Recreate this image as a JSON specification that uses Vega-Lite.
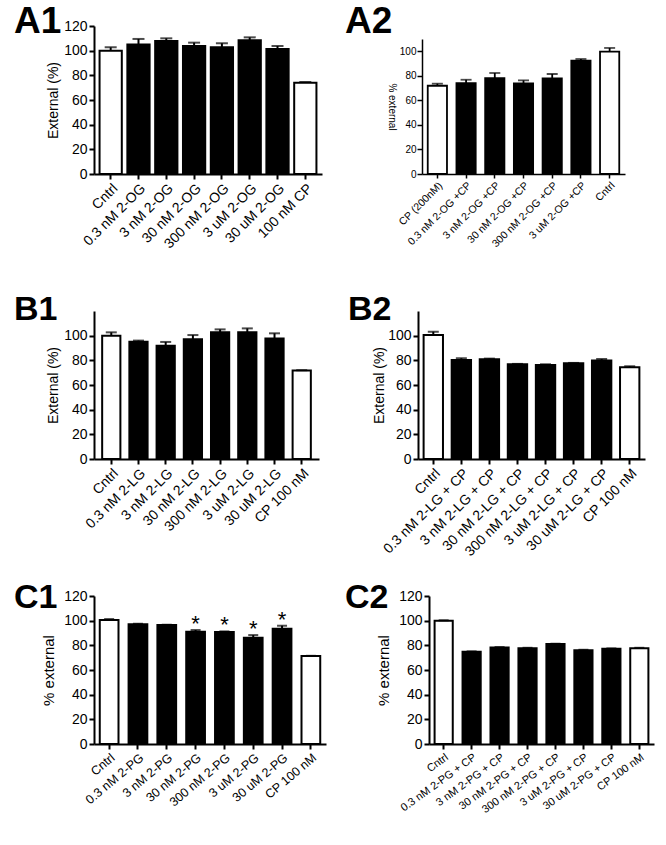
{
  "$schema": "https://vega.github.io/schema/vega-lite/v6.json",
  "background": "white",
  "padding": {"left": 14, "top": 3, "right": 5, "bottom": 5},
  "config": {
    "font": "Liberation Sans",
    "view": {"stroke": null},
    "axis": {"domainColor": "black", "domainWidth": 2, "tickColor": "black", "tickWidth": 2, "tickSize": 5, "labelColor": "black", "titleColor": "black", "grid": false, "labelFont": "Liberation Sans", "titleFont": "Liberation Sans", "titleFontWeight": "normal", "labelFontSize": 14, "titleFontSize": 14, "labelOverlap": false},
    "axisX": {"labelAngle": -45, "labelPadding": 2},
    "axisY": {"titlePadding": 3, "labelPadding": 2, "labelOverlap": false, "tickCount": 12},
    "title": {"font": "Liberation Sans", "color": "black"}
  },
  "datasets": {
    "A1": [
      {"cond": "Cntrl", "mean": 100, "hi": 102.7, "kind": "open"},
      {"cond": "0.3 nM 2-OG", "mean": 105, "hi": 109.5, "kind": "filled"},
      {"cond": "3 nM 2-OG", "mean": 107.8, "hi": 110, "kind": "filled"},
      {"cond": "30 nM 2-OG", "mean": 103.8, "hi": 106.5, "kind": "filled"},
      {"cond": "300 nM 2-OG", "mean": 102.7, "hi": 106, "kind": "filled"},
      {"cond": "3 uM 2-OG", "mean": 108.4, "hi": 110.8, "kind": "filled"},
      {"cond": "30 uM 2-OG", "mean": 101.4, "hi": 103.8, "kind": "filled"},
      {"cond": "100 nM CP", "mean": 74, "hi": 74.6, "kind": "open"}
    ],
    "A2": [
      {"cond": "CP (200nM)", "mean": 71.9, "hi": 73.6, "kind": "open"},
      {"cond": "0.3 nM 2-OG +CP", "mean": 74.1, "hi": 76.8, "kind": "filled"},
      {"cond": "3 nM 2-OG +CP", "mean": 78.2, "hi": 82.3, "kind": "filled"},
      {"cond": "30 nM 2-OG +CP", "mean": 73.8, "hi": 76.3, "kind": "filled"},
      {"cond": "300 nM 2-OG +CP", "mean": 77.9, "hi": 81.5, "kind": "filled"},
      {"cond": "3 uM 2-OG +CP", "mean": 92.4, "hi": 93.7, "kind": "filled"},
      {"cond": "Cntrl", "mean": 99.7, "hi": 102.7, "kind": "open"}
    ],
    "B1": [
      {"cond": "Cntrl", "mean": 100, "hi": 102.7, "kind": "open"},
      {"cond": "0.3 nM 2-LG", "mean": 95.1, "hi": 96, "kind": "filled"},
      {"cond": "3 nM 2-LG", "mean": 91.9, "hi": 94.9, "kind": "filled"},
      {"cond": "30 nM 2-LG", "mean": 97, "hi": 100.5, "kind": "filled"},
      {"cond": "300 nM 2-LG", "mean": 102.7, "hi": 105.1, "kind": "filled"},
      {"cond": "3 uM 2-LG", "mean": 102.7, "hi": 105.9, "kind": "filled"},
      {"cond": "30 uM 2-LG", "mean": 97.8, "hi": 101.9, "kind": "filled"},
      {"cond": "CP 100 nM", "mean": 71.7, "hi": 72, "kind": "open"}
    ],
    "B2": [
      {"cond": "Cntrl", "mean": 100.5, "hi": 103.2, "kind": "open"},
      {"cond": "0.3 nM 2-LG + CP", "mean": 80.3, "hi": 81.7, "kind": "filled"},
      {"cond": "3 nM 2-LG + CP", "mean": 80.9, "hi": 81.4, "kind": "filled"},
      {"cond": "30 nM 2-LG + CP", "mean": 76.8, "hi": 77.1, "kind": "filled"},
      {"cond": "300 nM 2-LG + CP", "mean": 76.3, "hi": 76.8, "kind": "filled"},
      {"cond": "3 uM 2-LG + CP", "mean": 77.6, "hi": 77.9, "kind": "filled"},
      {"cond": "30 uM 2-LG + CP", "mean": 79.8, "hi": 81.1, "kind": "filled"},
      {"cond": "CP 100 nM", "mean": 74.4, "hi": 75.2, "kind": "open"}
    ],
    "C1": [
      {"cond": "Cntrl", "mean": 100.5, "hi": 101.3, "kind": "open", "sig": ""},
      {"cond": "0.3 nM 2-PG", "mean": 97, "hi": 97.5, "kind": "filled", "sig": ""},
      {"cond": "3 nM 2-PG", "mean": 96.5, "hi": 96.7, "kind": "filled", "sig": ""},
      {"cond": "30 nM 2-PG", "mean": 91, "hi": 92.4, "kind": "filled", "sig": "*"},
      {"cond": "300 nM 2-PG", "mean": 90.8, "hi": 91.3, "kind": "filled", "sig": "*"},
      {"cond": "3 uM 2-PG", "mean": 86.2, "hi": 88.3, "kind": "filled", "sig": "*"},
      {"cond": "30 uM 2-PG", "mean": 93.5, "hi": 95.9, "kind": "filled", "sig": "*"},
      {"cond": "CP 100 nM", "mean": 71.3, "hi": 71.5, "kind": "open", "sig": ""}
    ],
    "C2": [
      {"cond": "Cntrl", "mean": 100, "hi": 100.3, "kind": "open"},
      {"cond": "0.3 nM 2-PG + CP", "mean": 74.8, "hi": 75.1, "kind": "filled"},
      {"cond": "3 nM 2-PG + CP", "mean": 78.3, "hi": 78.6, "kind": "filled"},
      {"cond": "30 nM 2-PG + CP", "mean": 77.7, "hi": 78, "kind": "filled"},
      {"cond": "300 nM 2-PG + CP", "mean": 81, "hi": 81.3, "kind": "filled"},
      {"cond": "3 uM 2-PG + CP", "mean": 76.1, "hi": 76.4, "kind": "filled"},
      {"cond": "30 uM 2-PG + CP", "mean": 77.2, "hi": 77.5, "kind": "filled"},
      {"cond": "CP 100 nM", "mean": 77.7, "hi": 78, "kind": "open"}
    ]
  },
  "spacing": 285,
  "bounds": "flush",
  "vconcat": [
    {
      "spacing": 100,
      "bounds": "flush",
      "hconcat": [
        {
          "title": {"text": "A1", "anchor": "start", "frame": "group", "fontSize": 37, "fontWeight": "bold", "baseline": "alphabetic", "offset": -51, "dx": -80},
          "width": 228, "height": 148,
          "data": {"name": "A1"},
          "encoding": {
            "x": {"field": "cond", "type": "nominal", "sort": null, "title": null, "scale": {"paddingInner": 0.2, "paddingOuter": 0.2}, "axis": {"labelFontSize": 14, "labelAngle": -45}}
          },
          "layer": [
            {"mark": {"type": "bar", "stroke": "black", "strokeWidth": 2},
             "encoding": {
               "y": {"field": "mean", "type": "quantitative", "title": "External (%)", "scale": {"domain": [0, 120], "nice": false}, "axis": {"values": [0, 20, 40, 60, 80, 100, 120], "tickCount": 12, "labelOverlap": false}},
               "fill": {"field": "kind", "type": "nominal", "scale": {"domain": ["open", "filled"], "range": ["white", "black"]}, "legend": null}}},
            {"mark": {"type": "rule", "stroke": "black", "strokeWidth": 2},
             "encoding": {"y": {"field": "mean", "type": "quantitative", "title": "External (%)"}, "y2": {"field": "hi"}}},
            {"mark": {"type": "tick", "color": "black", "thickness": 2, "size": 12},
             "encoding": {"y": {"field": "hi", "type": "quantitative", "title": "External (%)"}}}
          ]
        },
        {
          "title": {"text": "A2", "anchor": "start", "frame": "group", "fontSize": 37, "fontWeight": "bold", "baseline": "alphabetic", "offset": -44, "dx": -77},
          "width": 203, "height": 148,
          "data": {"name": "A2"},
          "encoding": {
            "x": {"field": "cond", "type": "nominal", "sort": null, "title": null, "scale": {"paddingInner": 0.33, "paddingOuter": 0.2}, "axis": {"labelFontSize": 10.5, "labelAngle": -45, "domainWidth": 1.5, "tickWidth": 1.5, "tickSize": 4}}
          },
          "layer": [
            {"mark": {"type": "bar", "stroke": "black", "strokeWidth": 1.8},
             "encoding": {
               "y": {"field": "mean", "type": "quantitative", "title": "% external", "scale": {"domain": [0, 110], "nice": false, "range": [148, 13]}, "axis": {"values": [0, 20, 40, 60, 80, 100], "tickCount": 12, "labelOverlap": false, "labelFontSize": 10, "titleFontSize": 10, "titleAngle": 90, "titleBaseline": "top", "titlePadding": 3, "domainWidth": 1.5, "tickWidth": 1.5, "tickSize": 5, "labelPadding": 1}},
               "fill": {"field": "kind", "type": "nominal", "scale": {"domain": ["open", "filled"], "range": ["white", "black"]}, "legend": null}}},
            {"mark": {"type": "rule", "stroke": "black", "strokeWidth": 1.8},
             "encoding": {"y": {"field": "mean", "type": "quantitative", "title": "% external"}, "y2": {"field": "hi"}}},
            {"mark": {"type": "tick", "color": "black", "thickness": 1.8, "size": 11},
             "encoding": {"y": {"field": "hi", "type": "quantitative", "title": "% external"}}}
          ]
        }
      ]
    },
    {
      "spacing": 99,
      "bounds": "flush",
      "hconcat": [
        {
          "title": {"text": "B1", "anchor": "start", "frame": "group", "fontSize": 34, "fontWeight": "bold", "baseline": "alphabetic", "offset": -43, "dx": -80},
          "width": 225, "height": 148,
          "data": {"name": "B1"},
          "encoding": {
            "x": {"field": "cond", "type": "nominal", "sort": null, "title": null, "scale": {"paddingInner": 0.33, "paddingOuter": 0.3}, "axis": {"labelFontSize": 14, "labelAngle": -45}}
          },
          "layer": [
            {"mark": {"type": "bar", "stroke": "black", "strokeWidth": 2},
             "encoding": {
               "y": {"field": "mean", "type": "quantitative", "title": "External (%)", "scale": {"domain": [0, 120], "nice": false}, "axis": {"values": [0, 20, 40, 60, 80, 100], "tickCount": 12, "labelOverlap": false}},
               "fill": {"field": "kind", "type": "nominal", "scale": {"domain": ["open", "filled"], "range": ["white", "black"]}, "legend": null}}},
            {"mark": {"type": "rule", "stroke": "black", "strokeWidth": 2},
             "encoding": {"y": {"field": "mean", "type": "quantitative", "title": "External (%)"}, "y2": {"field": "hi"}}},
            {"mark": {"type": "tick", "color": "black", "thickness": 2, "size": 11},
             "encoding": {"y": {"field": "hi", "type": "quantitative", "title": "External (%)"}}}
          ]
        },
        {
          "title": {"text": "B2", "anchor": "start", "frame": "group", "fontSize": 34, "fontWeight": "bold", "baseline": "alphabetic", "offset": -43, "dx": -70},
          "width": 227, "height": 148,
          "data": {"name": "B2"},
          "encoding": {
            "x": {"field": "cond", "type": "nominal", "sort": null, "title": null, "scale": {"paddingInner": 0.31, "paddingOuter": 0.2}, "axis": {"labelFontSize": 14, "labelAngle": -45}}
          },
          "layer": [
            {"mark": {"type": "bar", "stroke": "black", "strokeWidth": 2},
             "encoding": {
               "y": {"field": "mean", "type": "quantitative", "title": "External (%)", "scale": {"domain": [0, 120], "nice": false}, "axis": {"values": [0, 20, 40, 60, 80, 100], "tickCount": 12, "labelOverlap": false, "titlePadding": 1}},
               "fill": {"field": "kind", "type": "nominal", "scale": {"domain": ["open", "filled"], "range": ["white", "black"]}, "legend": null}}},
            {"mark": {"type": "rule", "stroke": "black", "strokeWidth": 2},
             "encoding": {"y": {"field": "mean", "type": "quantitative", "title": "External (%)"}, "y2": {"field": "hi"}}},
            {"mark": {"type": "tick", "color": "black", "thickness": 2, "size": 11},
             "encoding": {"y": {"field": "hi", "type": "quantitative", "title": "External (%)"}}}
          ]
        }
      ]
    },
    {
      "spacing": 103,
      "bounds": "flush",
      "hconcat": [
        {
          "title": {"text": "C1", "anchor": "start", "frame": "group", "fontSize": 34, "fontWeight": "bold", "baseline": "alphabetic", "offset": -53, "dx": -80},
          "width": 232, "height": 148,
          "data": {"name": "C1"},
          "encoding": {
            "x": {"field": "cond", "type": "nominal", "sort": null, "title": null, "scale": {"paddingInner": 0.35, "paddingOuter": 0.2}, "axis": {"labelFontSize": 12.5, "labelAngle": -40}}
          },
          "layer": [
            {"mark": {"type": "bar", "stroke": "black", "strokeWidth": 2},
             "encoding": {
               "y": {"field": "mean", "type": "quantitative", "title": "% external", "scale": {"domain": [0, 120], "nice": false}, "axis": {"values": [0, 20, 40, 60, 80, 100, 120], "tickCount": 12, "labelOverlap": false, "titleFontSize": 15, "titlePadding": 7}},
               "fill": {"field": "kind", "type": "nominal", "scale": {"domain": ["open", "filled"], "range": ["white", "black"]}, "legend": null}}},
            {"mark": {"type": "rule", "stroke": "black", "strokeWidth": 2},
             "encoding": {"y": {"field": "mean", "type": "quantitative", "title": "% external"}, "y2": {"field": "hi"}}},
            {"mark": {"type": "tick", "color": "black", "thickness": 2, "size": 10},
             "encoding": {"y": {"field": "hi", "type": "quantitative", "title": "% external"}}},
            {"transform": [{"filter": "datum.sig != ''"}],
             "mark": {"type": "text", "fontSize": 22, "baseline": "bottom", "dy": 6, "color": "black"},
             "encoding": {"y": {"field": "hi", "type": "quantitative", "title": "% external"}, "text": {"field": "sig"}}}
          ]
        },
        {
          "title": {"text": "C2", "anchor": "start", "frame": "group", "fontSize": 34, "fontWeight": "bold", "baseline": "alphabetic", "offset": -53, "dx": -84},
          "width": 225, "height": 148,
          "data": {"name": "C2"},
          "encoding": {
            "x": {"field": "cond", "type": "nominal", "sort": null, "title": null, "scale": {"paddingInner": 0.35, "paddingOuter": 0.2}, "axis": {"labelFontSize": 11, "labelAngle": -36}}
          },
          "layer": [
            {"mark": {"type": "bar", "stroke": "black", "strokeWidth": 2},
             "encoding": {
               "y": {"field": "mean", "type": "quantitative", "title": "% external", "scale": {"domain": [0, 120], "nice": false}, "axis": {"values": [0, 20, 40, 60, 80, 100, 120], "tickCount": 12, "labelOverlap": false, "titleFontSize": 15, "titlePadding": 7}},
               "fill": {"field": "kind", "type": "nominal", "scale": {"domain": ["open", "filled"], "range": ["white", "black"]}, "legend": null}}},
            {"mark": {"type": "rule", "stroke": "black", "strokeWidth": 2},
             "encoding": {"y": {"field": "mean", "type": "quantitative", "title": "% external"}, "y2": {"field": "hi"}}},
            {"mark": {"type": "tick", "color": "black", "thickness": 2, "size": 10},
             "encoding": {"y": {"field": "hi", "type": "quantitative", "title": "% external"}}}
          ]
        }
      ]
    }
  ]
}
